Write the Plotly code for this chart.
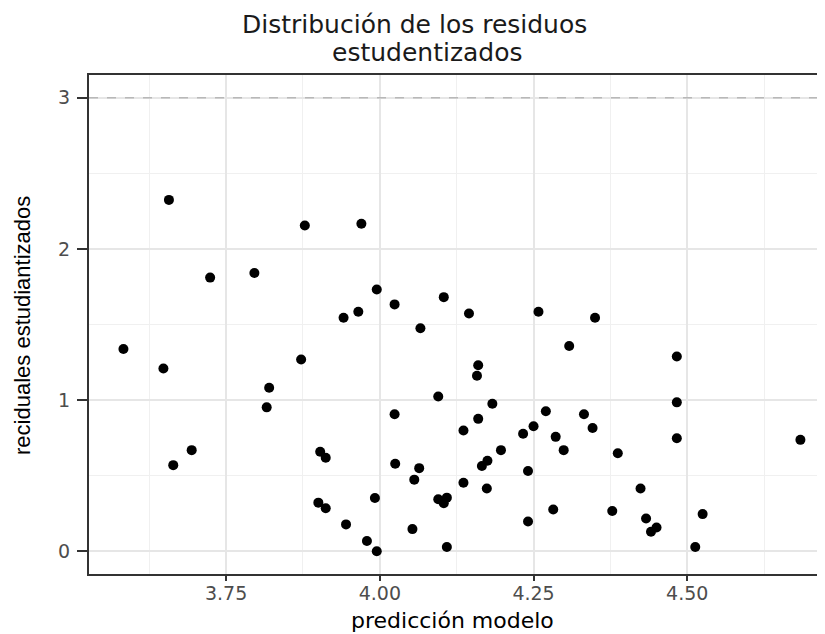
import plotly.graph_objects as go

# Data
prediccion = [3.657, 3.724, 3.796, 3.878, 3.970, 3.995, 3.941, 3.965, 4.024, 4.066,
              4.104, 4.145, 4.258, 4.350,
              3.583, 3.648, 3.872, 3.820, 3.816, 3.694, 3.664, 3.903, 3.912, 3.900,
              3.912, 3.945, 3.979, 3.995, 3.992, 4.024, 4.025, 4.056, 4.064, 4.053,
              4.308, 4.483, 4.160, 4.158, 4.095, 4.483, 4.183, 4.270, 4.332, 4.160,
              4.346, 4.250, 4.136, 4.233, 4.286, 4.483, 4.684, 4.299, 4.197, 4.387,
              4.175, 4.166, 4.241, 4.136, 4.174, 4.424, 4.095, 4.109, 4.104, 4.282,
              4.378, 4.525, 4.241, 4.433, 4.450, 4.441, 4.109, 4.513]
residuos = [2.324, 1.810, 1.841, 2.155, 2.166, 1.731, 1.545, 1.584, 1.633, 1.475,
            1.681, 1.573, 1.584, 1.545,
            1.338, 1.209, 1.268, 1.082, 0.952, 0.669, 0.570, 0.658, 0.619, 0.322,
            0.285, 0.178, 0.068, 0.000, 0.353, 0.906, 0.579, 0.474, 0.550, 0.147,
            1.358, 1.288, 1.231, 1.161, 1.024, 0.985, 0.976, 0.926, 0.906, 0.876,
            0.816, 0.827, 0.799, 0.777, 0.757, 0.748, 0.737, 0.669, 0.669, 0.649,
            0.599, 0.564, 0.531, 0.454, 0.415, 0.415, 0.344, 0.355, 0.318, 0.276,
            0.267, 0.246, 0.197, 0.217, 0.158, 0.129, 0.028, 0.028]
umbral = 3
x_ticks = [3.75, 4.00, 4.25, 4.50]
x_tick_labels = ["3.75", "4.00", "4.25", "4.50"]
y_ticks = [0, 1, 2, 3]
y_tick_labels = ["0", "1", "2", "3"]

titulo_1 = "Distribución de los residuos"
titulo_2 = "estudentizados"
titulo_x = "predicción modelo"
titulo_y = "reciduales estudiantizados"

# The page body has an 8px margin, so the figure is 8px smaller than the window.
W, H = 817, 626
ML, MT, PW, PH = 81, 67, 736, 499


def px(page_x):
    return (page_x - 8 - ML) / PW


def py(page_y):
    return (MT + PH - (page_y - 8)) / PH


fig = go.Figure()
fig.add_trace(go.Scatter(
    x=prediccion, y=residuos, mode="markers",
    marker=dict(color="black", size=10, line=dict(width=0)),
    showlegend=False, hoverinfo="x+y",
))

# dashed reference line at the threshold
fig.add_shape(type="line", xref="paper", yref="y", x0=0, x1=1, y0=umbral, y1=umbral,
              line=dict(color="#B8B8B8", width=1.5, dash="dash"), layer="above")

tick_font = dict(family="DejaVu Sans", size=19, color="#4D4D4D")
fig.update_layout(
    width=W, height=H,
    margin=dict(l=ML, r=W - ML - PW, t=MT, b=H - MT - PH, autoexpand=False),
    paper_bgcolor="white", plot_bgcolor="white",
    xaxis=dict(
        range=[3.527, 4.724], tickvals=x_ticks, ticktext=x_tick_labels,
        showgrid=True, gridcolor="#E6E6E6", gridwidth=1.5,
        minor=dict(tick0=3.625, dtick=0.25, showgrid=True, gridcolor="#F0F0F0", gridwidth=1, ticks=""),
        showline=True, linecolor="#333333", linewidth=2, mirror=True,
        ticks="outside", ticklen=5, tickcolor="#333333", tickwidth=1.5,
        tickfont=tick_font, ticklabelstandoff=-4, zeroline=False,
    ),
    yaxis=dict(
        range=[-0.15, 3.15], tickvals=y_ticks, ticktext=y_tick_labels,
        showgrid=True, gridcolor="#E6E6E6", gridwidth=1.5,
        minor=dict(tick0=0.5, dtick=1, showgrid=True, gridcolor="#F0F0F0", gridwidth=1, ticks=""),
        showline=True, linecolor="#333333", linewidth=2, mirror=False,
        ticks="outside", ticklen=10, tickcolor="#333333", tickwidth=1.5,
        tickfont=tick_font, ticklabelstandoff=3, zeroline=False,
    ),
    annotations=[
        dict(text=titulo_1, xref="paper", yref="paper", x=px(414), y=py(24),
             xanchor="center", yanchor="middle", showarrow=False,
             font=dict(family="DejaVu Sans", size=25, color="#1A1A1A")),
        dict(text=titulo_2, xref="paper", yref="paper", x=px(427), y=py(53),
             xanchor="center", yanchor="middle", showarrow=False,
             font=dict(family="DejaVu Sans", size=25, color="#1A1A1A")),
        dict(text=titulo_x, xref="paper", yref="paper", x=px(452), y=py(620),
             xanchor="center", yanchor="middle", showarrow=False,
             font=dict(family="DejaVu Sans", size=22, color="black")),
        dict(text=titulo_y, xref="paper", yref="paper", x=px(22), y=py(326),
             xanchor="center", yanchor="middle", showarrow=False, textangle=-90,
             font=dict(family="Liberation Sans", size=22, color="black")),
    ],
)

fig.write_html("out.html")
